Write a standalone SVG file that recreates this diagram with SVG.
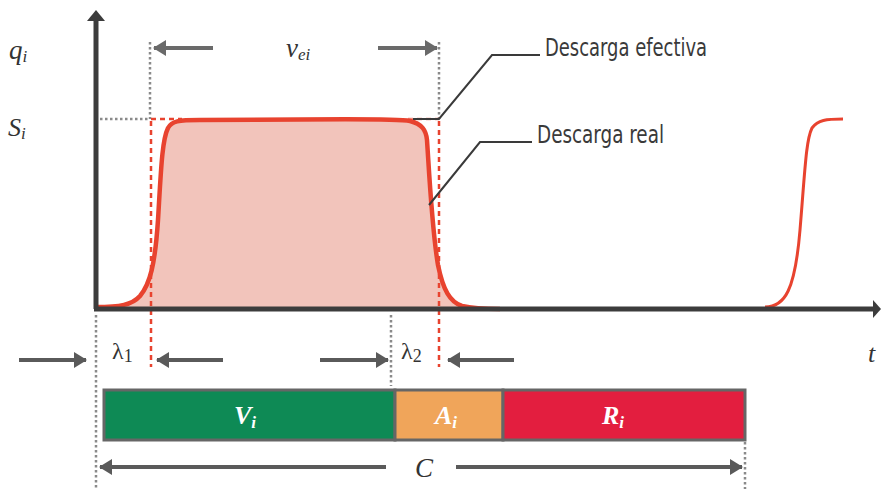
<svg xmlns="http://www.w3.org/2000/svg" width="881" height="489" viewBox="0 0 881 489">
<style>
.dot{stroke:#8a8a8a;stroke-width:2.5;stroke-dasharray:2.5 2.5;fill:none}
.rdash{stroke:#e8432f;stroke-width:2.5;stroke-dasharray:5 4;fill:none}
.arr{stroke:#6a6a6a;stroke-width:4;fill:none;marker-end:url(#ah)}
.arr2{stroke:#5a5a5a;stroke-width:4;fill:none;marker-end:url(#ah2)}
.lead{stroke:#3a3a3a;stroke-width:2;fill:none}
.m{font-family:'Liberation Serif','DejaVu Serif','Times New Roman',serif;font-style:italic;fill:#333}
.mr{font-family:'Liberation Serif','DejaVu Serif','Times New Roman',serif;fill:#333}
.lbl{font-family:'Liberation Sans Narrow','DejaVu Sans Condensed','Liberation Sans',sans-serif;fill:#3a3a3a}
.bl{font-family:'Liberation Serif','DejaVu Serif','Times New Roman',serif;font-style:italic;font-weight:bold;fill:#fff;text-anchor:middle}
</style>
<defs>
<marker id="ah" markerUnits="userSpaceOnUse" markerWidth="14" markerHeight="18" refX="12" refY="9" orient="auto">
<path d="M0,1 L13,9 L0,17 Z" fill="#6a6a6a"/>
</marker>
<marker id="ah2" markerUnits="userSpaceOnUse" markerWidth="14" markerHeight="18" refX="12" refY="9" orient="auto">
<path d="M0,1 L13,9 L0,17 Z" fill="#5a5a5a"/>
</marker>
</defs>

<g id="curve">
<path d="M96,307 C120,307 132,305 140,296 C150,284 155,265 158,220 C161,170 162,140 168,128 C172,121 178,120 200,120 L300,119.5 C360,119 400,119 410,121 C422,124 426,130 427,140 C429,170 432,230 438,265 C443,290 450,302 462,306 C475,309 490,309 500,309 L96,309 Z" fill="#f2c4bb"/>
<path d="M96,307 C120,307 132,305 140,296 C150,284 155,265 158,220 C161,170 162,140 168,128 C172,121 178,120 200,120 L300,119.5 C360,119 400,119 410,121 C422,124 426,130 427,140 C429,170 432,230 438,265 C443,290 450,302 462,306 C475,309 490,309 500,309" fill="none" stroke="#e8432f" stroke-width="4.5"/>
<path d="M765,307 C785,307 795,290 800,230 C805,170 806,140 812,128 C818,120 826,119 843,119" fill="none" stroke="#e8432f" stroke-width="3"/>
</g>

<g id="guides">
<line class="dot" x1="150" y1="42" x2="150" y2="119"/>
<line class="dot" x1="439" y1="42" x2="439" y2="119"/>
<line class="dot" x1="100" y1="119" x2="150" y2="119"/>
<line class="rdash" x1="151" y1="119" x2="182" y2="119"/>
<line class="rdash" x1="408" y1="119" x2="439" y2="119" stroke-opacity="0.6"/>
<line class="rdash" x1="151" y1="121" x2="151" y2="367"/>
<line class="rdash" x1="439" y1="121" x2="439" y2="367"/>
<line class="dot" x1="96" y1="315" x2="96" y2="489"/>
<line class="dot" x1="391" y1="315" x2="391" y2="386"/>
<line class="dot" x1="745" y1="442" x2="745" y2="489"/>
</g>

<g id="axes">
<line x1="96" y1="309" x2="96" y2="19" stroke="#3c3c3c" stroke-width="5"/>
<path d="M87,21 L96,10 L105,21 Z" fill="#3c3c3c"/>
<line x1="94" y1="309" x2="874" y2="309" stroke="#3c3c3c" stroke-width="5"/>
<path d="M873,300 L881,309 L873,318 Z" fill="#3c3c3c"/>
</g>

<g id="connectors">
<line class="arr" x1="213" y1="48" x2="154" y2="48"/>
<line class="arr" x1="378" y1="48" x2="437" y2="48"/>
<line class="arr2" x1="19" y1="360" x2="86" y2="360"/>
<line class="arr2" x1="223" y1="360" x2="157" y2="360"/>
<line class="arr2" x1="320" y1="360" x2="388" y2="360"/>
<line class="arr2" x1="514" y1="360" x2="448" y2="360"/>
<line class="arr2" x1="386" y1="467" x2="100" y2="467"/>
<line class="arr2" x1="456" y1="467" x2="742" y2="467"/>
<polyline class="lead" points="413,119 439,119 492,55 540,55"/>
<polyline class="lead" points="429,205 480,142 532,142"/>
</g>

<g id="labels">
<text class="m" x="9" y="59" font-size="27">q<tspan font-size="17" dy="3">i</tspan></text>
<text class="m" x="8" y="136" font-size="26">S<tspan font-size="17" dy="3">i</tspan></text>
<text class="m" x="286" y="57" font-size="27">v<tspan font-size="17" dy="3">ei</tspan></text>
<text class="m" x="868" y="362" font-size="26">t</text>
<text class="mr" x="112" y="359" font-size="24">λ<tspan font-size="18" dy="3">1</tspan></text>
<text class="mr" x="401" y="359" font-size="24">λ<tspan font-size="18" dy="3">2</tspan></text>
<text class="m" x="424" y="477" font-size="27" text-anchor="middle">C</text>
<text id="lbl-efectiva" class="lbl" x="545" y="56" font-size="24" textLength="162" lengthAdjust="spacingAndGlyphs">Descarga efectiva</text>
<text id="lbl-real" class="lbl" x="537" y="143" font-size="24" textLength="127" lengthAdjust="spacingAndGlyphs">Descarga real</text>
</g>

<g id="bar">
<rect id="Vi" x="104" y="390" width="291" height="50" fill="#0e8a55" stroke="#666" stroke-width="3"/>
<rect id="Ai" x="395" y="390" width="108" height="50" fill="#f0a55a" stroke="#666" stroke-width="3"/>
<rect id="Ri" x="503" y="390" width="242" height="50" fill="#e31e3f" stroke="#666" stroke-width="3"/>
<text class="bl" x="245" y="424" font-size="26">V<tspan font-size="17" dy="4">i</tspan></text>
<text class="bl" x="446" y="424" font-size="26">A<tspan font-size="17" dy="4">i</tspan></text>
<text class="bl" x="613" y="424" font-size="26">R<tspan font-size="17" dy="4">i</tspan></text>
</g>
</svg>
